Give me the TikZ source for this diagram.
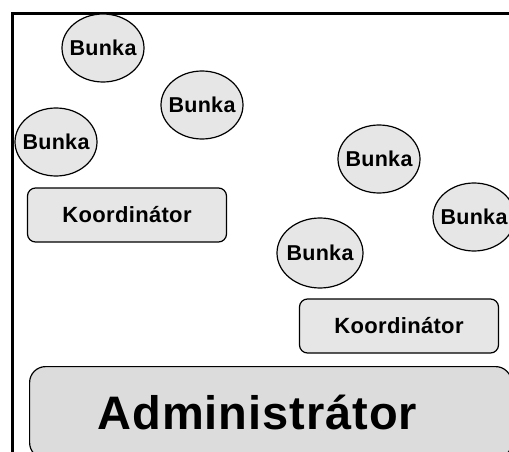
\documentclass[tikz,border=0pt]{standalone}
\usepackage{fontspec}
\setmainfont{Liberation Sans}
\usepackage{tikz}
\usetikzlibrary{positioning}
\usetikzlibrary{shapes.geometric}
\definecolor{cellgray}{HTML}{E6E6E6}
\definecolor{admingray}{HTML}{DCDCDC}
\tikzset{
	bunka/.style={ellipse, draw=black, fill=cellgray, line width=1.2pt, minimum width=82pt, minimum height=68pt, inner xsep=-12pt, inner ysep=0pt, font=\fontsize{21.5}{22}\selectfont\bfseries\addfontfeature{LetterSpace=1.5}},
	koord/.style={rectangle, rounded corners=8pt, draw=black, fill=cellgray, line width=1.2pt, minimum width=199pt, minimum height=54pt, font=\fontsize{22}{24}\selectfont\bfseries\addfontfeature{LetterSpace=1.5}},
	admin/.style={rectangle, rounded corners=16pt, draw=black, fill=admingray, line width=1.2pt, minimum height=92pt, text width=346pt, inner xsep=68pt, align=left, font=\fontsize{47}{48}\selectfont\bfseries\addfontfeature{LetterSpace=2}},
	frame/.style={line width=3pt, draw=black}
}

\begin{document}
\begin{tikzpicture}[x=1pt,y=-1pt]
		\clip (0,0) rectangle (509,452);
		\fill[white] (0,0) rectangle (509,452);

		\coordinate (ftl) at (12,14);
		\coordinate (ftr) at (520,14);
		\coordinate (fbl) at (12,460);
		\draw[frame] (ftr) -- (ftl) -- (fbl);

		\node[bunka] (b1) at (103,48) {Bunka};
		\node[bunka] (b2) at (202,105) {Bunka};
		\node[bunka] (b3) at (56,142) {Bunka};
		\node[bunka] (b4) at (379,159) {Bunka};
		\node[bunka] (b5) at (474,217) {Bunka};
		\node[bunka, minimum width=86pt, minimum height=70pt] (b6) at (320,253) {Bunka};

		\node[koord] (k1) at (127,215) {Koordinátor};
		\node[koord] (k2) at (399,326) {Koordinátor};

		\node[admin, anchor=north west] (adm) at (29,366) {Administrátor};
	\end{tikzpicture}
\end{document}
